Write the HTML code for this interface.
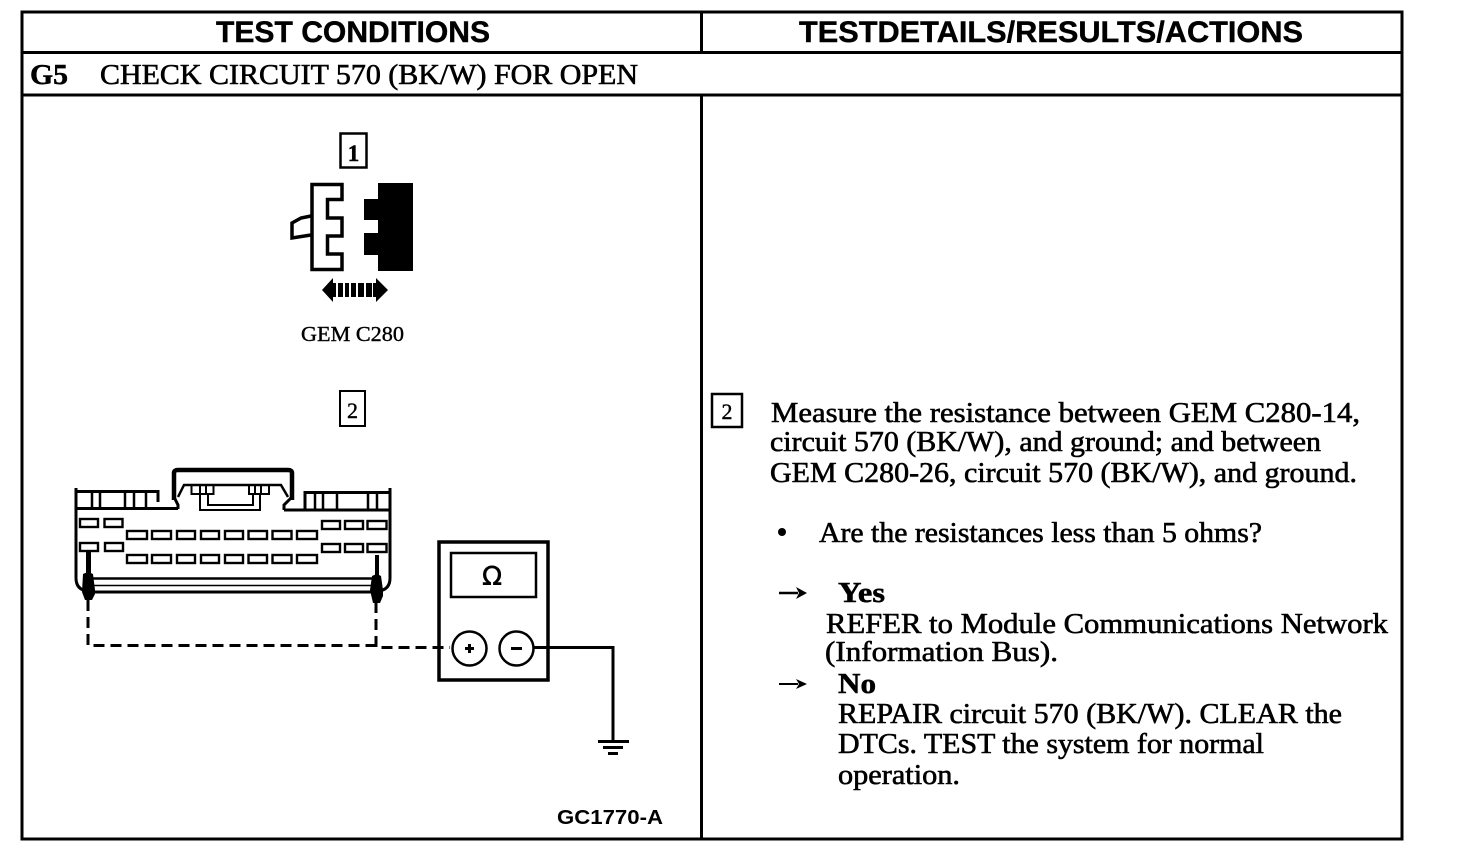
<!DOCTYPE html>
<html><head><meta charset="utf-8"><style>
html,body{margin:0;padding:0;background:#fff;width:1472px;height:854px;overflow:hidden}
svg{display:block}
.s{font-family:"Liberation Serif",serif;font-size:28px;fill:#000;stroke:#000;stroke-width:.6px}
.b{font-family:"Liberation Serif",serif;font-weight:bold;font-size:28px;fill:#000;stroke:#000;stroke-width:.5px}
.h{font-family:"Liberation Sans",sans-serif;font-weight:bold;font-size:30px;fill:#000;stroke:#000;stroke-width:.4px}
.l{fill:none;stroke:#000}
</style></head><body>
<svg width="1472" height="854" viewBox="0 0 1472 854" xmlns="http://www.w3.org/2000/svg">
<!-- frame -->
<g class="l" stroke-width="3">
<rect x="22" y="12" width="1380" height="827"/>
<path d="M22 52.500H1402M22 95H1402M701.500 12V52M701.500 95V839"/>
</g>
<text class="h" x="216" y="42" textLength="274" lengthAdjust="spacingAndGlyphs">TEST CONDITIONS</text>
<text class="h" x="799" y="42" textLength="504" lengthAdjust="spacingAndGlyphs">TESTDETAILS/RESULTS/ACTIONS</text>
<text class="b" x="30" y="84" textLength="38" lengthAdjust="spacingAndGlyphs">G5</text>
<text class="s" x="100" y="84" textLength="538" lengthAdjust="spacingAndGlyphs">CHECK CIRCUIT 570 (BK/W) FOR OPEN</text>

<!-- step 1 -->
<rect class="l" stroke-width="2.500" x="340.500" y="133.500" width="26" height="34"/>
<text class="b" x="353.500" y="161" style="font-size:23px" text-anchor="middle">1</text>
<path class="l" stroke-width="3.500" stroke-linejoin="miter" d="M312 184.500H342V199.500H327.500V218H342V236H327.500V254H342V269.500H312Z"/>
<path class="l" stroke-width="3.500" d="M311 216L301 218L292 223V238L311 235"/>
<path d="M378 183H413V271H378V255H364V233H378V220H364V199H378Z" fill="#000"/>
<path d="M322 290L333 278V283H336V297H333V302ZM388 290L376 278V283H373V297H376V302Z" fill="#000"/>
<path d="M338 283h5v14h-5zM345 283h4v14h-4zM351 283h5v14h-5zM358 283h6v14h-6zM366 283h6v14h-6z" fill="#000"/>
<text class="s" x="301" y="341" style="font-size:21px;stroke-width:.4px" textLength="103" lengthAdjust="spacingAndGlyphs">GEM C280</text>

<!-- step 2 -->
<rect class="l" stroke-width="2" x="340" y="391" width="25" height="35"/>
<text class="s" x="352.500" y="418" style="font-size:22px;stroke-width:.4px" text-anchor="middle">2</text>

<!-- connector -->
<g class="l">
<path d="M76 488V578Q76 590 88 591M390 488V578Q390 590 378 591" stroke-width="3"/>
<path d="M76 491.500H158V502M76 508.500H178" stroke-width="3"/>
<path d="M92 492V508M100 492V508M125 492V508M134 492V508M146 492V508" stroke-width="2.500"/>
<path d="M390 492.500H305V510M284 510H390" stroke-width="3"/>
<path d="M315 493V509M323 493V509M337 493V509M368 493V509M377 493V509" stroke-width="2.500"/>
<path d="M174 500V473Q174 470 178 470H288Q292 470 292 473V500" stroke-width="4.500"/>
<path d="M174 497L178 505V509M292 497L284 505V510" stroke-width="3"/>
<path d="M178 497L184 485H281L288 497" stroke-width="2.500"/>
<path d="M200 493V510H260V493" stroke-width="2"/>
<path d="M208 493V505H253V493" stroke-width="2"/>
<rect x="191.500" y="485" width="22" height="9" stroke-width="2"/>
<path d="M200 485V494M206 485V494M255 485V494M261 485V494" stroke-width="2"/>
<rect x="249" y="485" width="20" height="9" stroke-width="2"/>
<path d="M84 578.500H378" stroke-width="2.500"/>
<path d="M84 585.500H378" stroke-width="1.500"/>
<path d="M84 592H378" stroke-width="3"/>
</g>
<g class="l" stroke-width="2.400">
<rect x="80" y="519" width="18" height="8"/><rect x="104.500" y="519" width="18" height="8"/>
<rect x="80" y="543" width="18" height="8"/><rect x="105" y="543" width="18" height="8"/>
<rect x="127" y="531" width="20" height="8"/><rect x="152" y="531" width="19" height="8"/><rect x="177" y="531" width="18" height="8"/><rect x="201" y="531" width="18" height="8"/><rect x="225" y="531" width="18" height="8"/><rect x="248.500" y="531" width="18.500" height="8"/><rect x="272.500" y="531" width="19" height="8"/><rect x="297" y="531" width="20" height="8"/>
<rect x="127" y="555" width="20" height="8"/><rect x="152" y="555" width="19" height="8"/><rect x="177" y="555" width="18" height="8"/><rect x="201" y="555" width="18" height="8"/><rect x="225" y="555" width="18" height="8"/><rect x="248.500" y="555" width="18.500" height="8"/><rect x="272.500" y="555" width="19" height="8"/><rect x="297" y="555" width="20" height="8"/>
<rect x="322" y="521" width="18" height="8"/><rect x="345" y="521" width="18" height="8"/><rect x="367.500" y="521" width="19" height="8"/>
<rect x="322" y="544" width="18" height="8"/><rect x="345" y="544" width="18" height="8"/><rect x="367.500" y="544" width="19" height="8"/>
</g>
<!-- probes -->
<path d="M86 552h5v22h-5zM375 555h4v21h-4z" fill="#000"/>
<path d="M83 574Q88 571 93 574L95 590V594L92 600H85L82 592Z" fill="#000"/>
<path d="M372 576Q377 573 381 576L383 590V596L380 603H373L370 590Z" fill="#000"/>
<!-- dashed leads -->
<path class="l" stroke-width="3" stroke-dasharray="11 6" d="M88 600V645.500H376"/>
<path class="l" stroke-width="3" stroke-dasharray="11 6" d="M376 602V647.500H450"/>

<!-- meter -->
<rect class="l" stroke-width="3.500" x="439" y="542" width="109" height="138"/>
<rect class="l" stroke-width="2.500" x="451" y="553" width="85" height="44"/>
<text x="492" y="585" text-anchor="middle" style="font-family:'DejaVu Sans',sans-serif;font-size:26px;fill:#000;stroke:#000;stroke-width:.6px">Ω</text>
<circle class="l" stroke-width="2.500" cx="469.500" cy="648.500" r="17"/>
<circle class="l" stroke-width="2.500" cx="516.500" cy="648.500" r="17"/>
<path d="M465 648.500H474M469.500 644V653" class="l" stroke-width="3"/>
<path d="M511 648.500H522" class="l" stroke-width="3"/>
<path class="l" stroke-width="3" d="M534 647.500H613V741"/>
<path class="l" stroke-width="3" d="M598 741.500H629M603 747.500H623M608 753.500H618"/>
<text x="557" y="824" style="font-family:'Liberation Sans',sans-serif;font-weight:bold;font-size:20px;fill:#000" textLength="106" lengthAdjust="spacingAndGlyphs">GC1770-A</text>

<!-- right column -->
<rect class="l" stroke-width="2.500" x="712" y="394" width="30" height="33"/>
<text class="s" x="727" y="419" style="font-size:22px;stroke-width:.4px" text-anchor="middle">2</text>
<text class="s" x="771" y="422" textLength="589" lengthAdjust="spacingAndGlyphs">Measure the resistance between GEM C280-14,</text>
<text class="s" x="770" y="451" textLength="551" lengthAdjust="spacingAndGlyphs">circuit 570 (BK/W), and ground; and between</text>
<text class="s" x="770" y="482" textLength="587" lengthAdjust="spacingAndGlyphs">GEM C280-26, circuit 570 (BK/W), and ground.</text>
<circle cx="782" cy="532" r="4" fill="#000"/>
<text class="s" x="819" y="542" textLength="443" lengthAdjust="spacingAndGlyphs">Are the resistances less than 5 ohms?</text>
<path d="M779 593H798" class="l" stroke-width="2.500"/><path d="M796 587L807 593L796 599L799 593Z" fill="#000"/>
<text class="b" x="838" y="602" textLength="47" lengthAdjust="spacingAndGlyphs">Yes</text>
<text class="s" x="826" y="633" textLength="562" lengthAdjust="spacingAndGlyphs">REFER to Module Communications Network</text>
<text class="s" x="825" y="661" textLength="233" lengthAdjust="spacingAndGlyphs">(Information Bus).</text>
<path d="M779 684H798" class="l" stroke-width="2"/><path d="M796 679L807 684L796 689L799 684Z" fill="#000"/>
<text class="b" x="838" y="693" textLength="38" lengthAdjust="spacingAndGlyphs">No</text>
<text class="s" x="838" y="723" textLength="504" lengthAdjust="spacingAndGlyphs">REPAIR circuit 570 (BK/W). CLEAR the</text>
<text class="s" x="838" y="753" textLength="426" lengthAdjust="spacingAndGlyphs">DTCs. TEST the system for normal</text>
<text class="s" x="838" y="784" textLength="122" lengthAdjust="spacingAndGlyphs">operation.</text>
</svg>
</body></html>
